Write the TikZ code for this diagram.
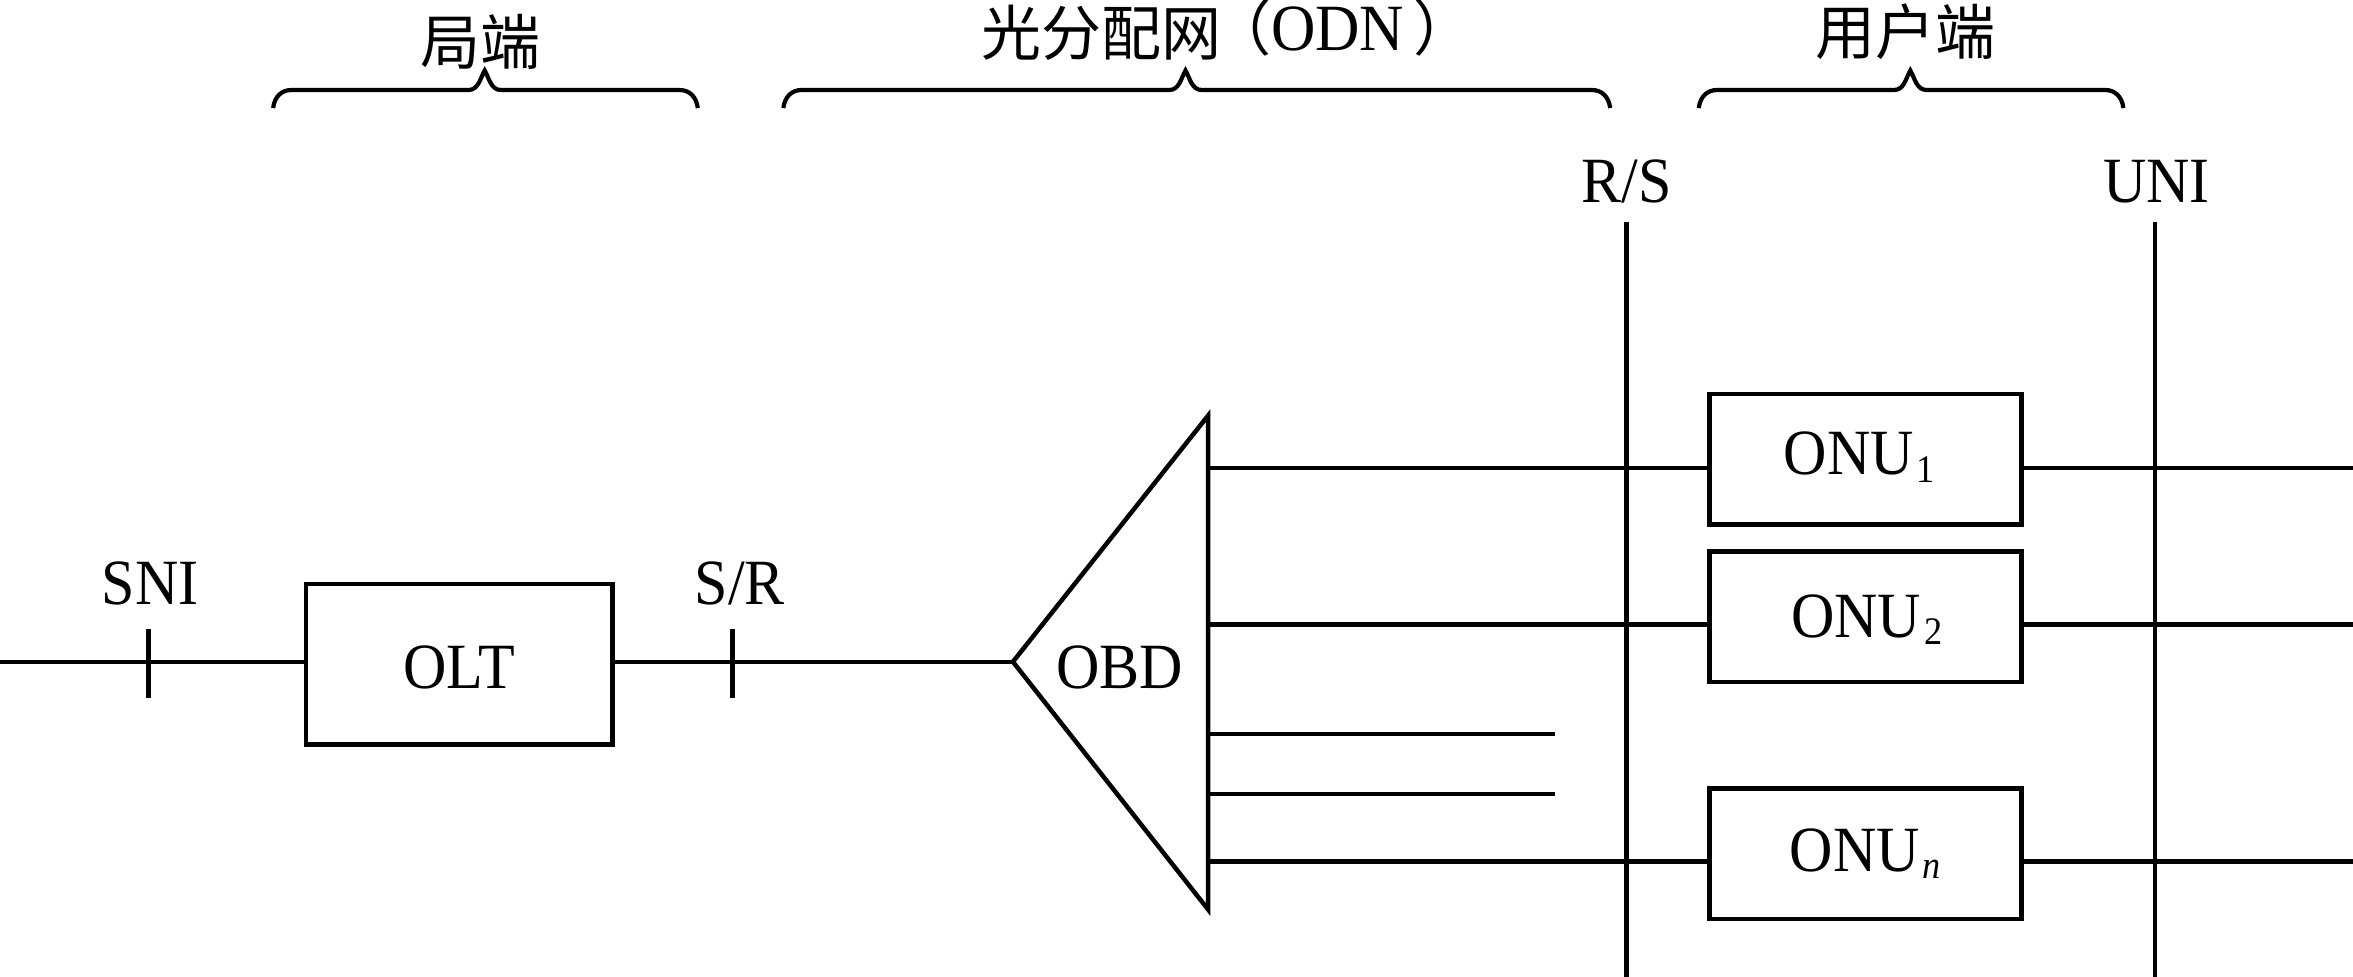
\documentclass[tikz,border=0pt]{standalone}
\usepackage{fontspec}
\setmainfont{Liberation Serif}[FakeStretch=0.93]
\newfontfamily\cjk{Noto Sans CJK SC}
\newcommand{\onu}[2]{\hspace*{#2pt}ONU\hspace{2pt}\raisebox{-5pt}{\fontsize{26}{26}\selectfont #1}}
\newcommand{\curly}[3]{%
  \draw[line width=2.8pt] (#1,72) .. controls +(1,-8) and +(-6,0) .. (#1+12,60) -- (#2-11,60)
    .. controls +(7,0) and +(-3,5) .. (#2,47) .. controls +(3,5) and +(-7,0) .. (#2+11,60)
    -- (#3-12,60) .. controls +(6,0) and +(-1,-8) .. (#3,72);}

\begin{document}
\begin{tikzpicture}
  [x=1pt,y=-1pt,line width=3pt,
   every node/.style={inner sep=0pt,outer sep=0pt,font=\fontsize{43}{45}\selectfont},
   box/.style={draw,minimum width=208pt,minimum height=87pt,text height=28pt},
   tag/.style={font=\fontsize{40}{43}\selectfont\cjk}]
  \useasboundingbox (0,0) rectangle (1568,651);

  \node[box,minimum width=204pt,minimum height=107pt,text height=33pt,text depth=0pt] (olt) at (306,442.5) {OLT};
  \node[box,text depth=7pt] (onu1) at (1243,306) {\onu{1}{-8}};
  \node[box,text depth=1pt] (onu2) at (1243,411) {\onu{2}{2}};
  \node[box,text depth=5pt] (onun) at (1243,569) {\onu{\textit{n}}{0}};
  \node[anchor=base] (obd) at (746,458.6) {OBD};

  \node[anchor=base] (sni) at (100,403) {SNI};
  \node[anchor=base] (sr) at (493,403) {S/R};
  \node[anchor=base] (rs) at (1084,135) {R/S};
  \node[anchor=base] (uni) at (1437,135) {UNI};

  \node[tag] (ju) at (320,28) {局端};
  \node[tag,anchor=west] (odn) at (654,20) {光分配网\hspace{-7pt}\raisebox{3pt}{（{\fontsize{44}{45}\selectfont\rmfamily ODN}\hspace{6pt}）}};
  \node[tag] (yh) at (1270,21) {用户端};

  \coordinate (in) at (0,441);
  \coordinate (apex) at (675,441);
  \coordinate (top) at (805,277);
  \coordinate (bot) at (805,606);
  \draw[line join=miter] (apex) -- (top) -- (bot) -- cycle;

  % ticks on the feeder line
  \coordinate (t1a) at (99,419);
  \coordinate (t1b) at (99,465);
  \coordinate (t2a) at (488,419);
  \coordinate (t2b) at (488,465);
  \draw (in) -- (olt.west |- in);
  \draw (olt.east |- in) -- (apex);
  \draw (t1a) -- (t1b);
  \draw (t2a) -- (t2b);

  % reference planes
  \coordinate (p1a) at (1084,148);
  \coordinate (p1b) at (1084,651);
  \coordinate (p2a) at (1436,148);
  \coordinate (p2b) at (1436,651);
  \draw (p1a) -- (p1b);
  \draw (p2a) -- (p2b);

  % branches
  \foreach \name/\y in {b1/312,b2/416,bn/574}
    \coordinate (\name) at (805,\y);
  \foreach \name/\y in {r1/312,r2/416,rn/574}
    \coordinate (\name) at (1568,\y);
  \foreach \from/\to in {b1/onu1,b2/onu2,bn/onun}
    \draw (\from) -- (\from -| \to.west);
  \foreach \from/\to in {onu1/r1,onu2/r2,onun/rn}
    \draw (\from.east |- \to) -- (\to);

  \coordinate (s1) at (805,489);
  \coordinate (s2) at (805,529);
  \coordinate (e1) at (1036,489);
  \coordinate (e2) at (1036,529);
  \draw (s1) -- (e1);
  \draw (s2) -- (e2);

  % braces
  \curly{182}{323}{465}
  \curly{522}{790}{1073}
  \curly{1132}{1273}{1415}
\end{tikzpicture}
\end{document}
